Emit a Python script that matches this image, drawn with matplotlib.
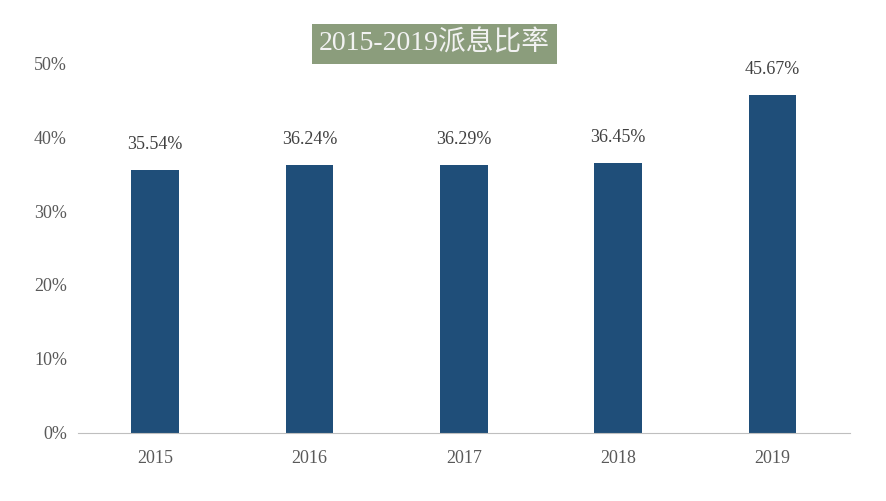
import matplotlib.pyplot as plt
from matplotlib.ticker import PercentFormatter

plt.rcParams['font.family'] = ['Liberation Serif', 'Noto Sans CJK SC']

years = ['2015', '2016', '2017', '2018', '2019']
ratios = [35.54, 36.24, 36.29, 36.45, 45.67]
title = '2015-2019派息比率'

fig = plt.figure(figsize=(8.87, 5.01), dpi=100)
ax = fig.add_axes([0.088, 0.136, 0.87, 0.738])

bars = ax.bar(years, ratios, width=0.31, color='#1f4e79')
for b, v in zip(bars, ratios):
    ax.text(b.get_x() + b.get_width() / 2, v + 2.3, f'{v:.2f}%',
            ha='center', va='bottom', fontsize=13, color='#404040')

ax.set_ylim(0, 50)
ax.set_xlim(-0.5, 4.5)
ax.set_yticks(range(0, 51, 10))
ax.yaxis.set_major_formatter(PercentFormatter(decimals=0))
ax.tick_params(axis='both', length=0, labelsize=13, labelcolor='#595959')
ax.tick_params(axis='x', pad=12)
ax.tick_params(axis='y', pad=8)
for s in ['top', 'right', 'left']:
    ax.spines[s].set_visible(False)
ax.spines['bottom'].set_color('#bfbfbf')

fig.text(0.49, 0.913, title, ha='center', va='center', fontsize=20,
         color='#f2f2f2',
         bbox=dict(boxstyle='square,pad=0.25', facecolor='#8b9d7c', edgecolor='none'))

fig.savefig('out.png')
